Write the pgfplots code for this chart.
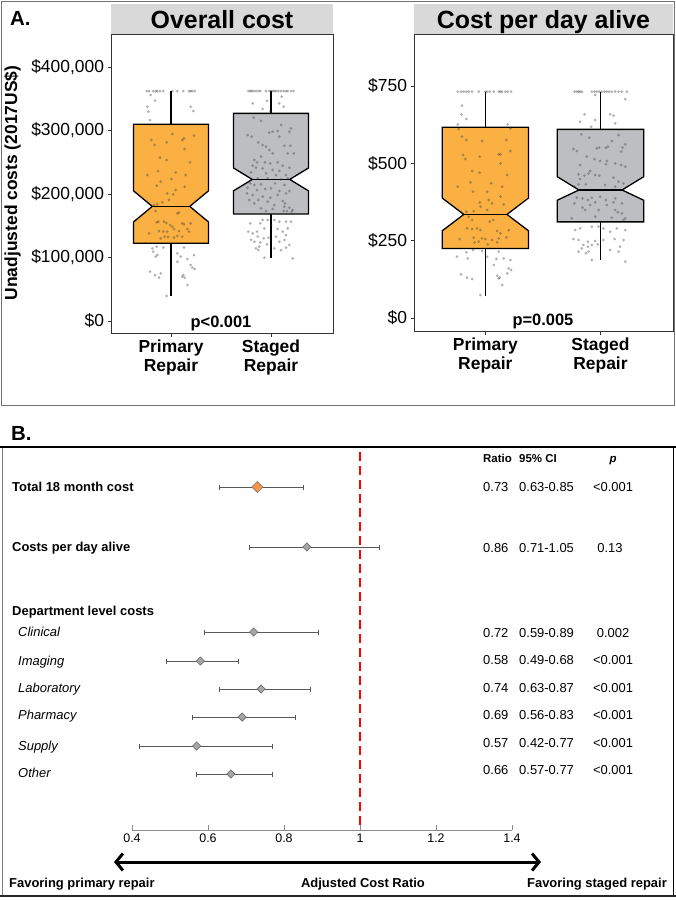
\documentclass[border=0pt]{standalone}
\usepackage{fontspec}
\setmainfont{Liberation Sans}
\usepackage{pgfplots}
\pgfplotsset{compat=1.18}
\usetikzlibrary{arrows.meta}
\definecolor{boxorange}{HTML}{FAB042}
\definecolor{boxgray}{HTML}{BDBEC2}
\definecolor{stripgray}{HTML}{D9D9D9}
\definecolor{diaorange}{HTML}{F79646}
\definecolor{diagray}{HTML}{A6A6A6}
\pgfplotsset{
  boxax/.style={scale only axis, anchor=south west,
    axis line style={black!80, line width=0.8bp},
    tick style={black!80, line width=0.8bp},
    tick align=outside, major tick length=3.5bp, tick pos=left,
    xtick={1,2}, xticklabels={{Primary\\Repair},{Staged\\Repair}},
    xticklabel style={align=center, font=\bfseries\fontsize{17.5}{19}\selectfont},
    yticklabel style={font=\fontsize{17.5}{20}\selectfont},
    clip=false},
  jit/.style={only marks, mark=*, mark size=1.5bp, draw=none,
    mark options={draw=none, draw opacity=0, line width=0pt, fill=black!80, fill opacity=0.38}},
  bx/.style={draw=black, line width=1.3bp},
}
\begin{document}
\begin{tikzpicture}[x=1bp,y=1bp]
\path[use as bounding box] (0,0) rectangle (676,-900);
% ---------- Panel A ----------
\draw[black!55, line width=1bp] (1.5,-1.5) rectangle (674.5,-405);
\node[anchor=base west, font=\bfseries\fontsize{20.5}{24}\selectfont, inner sep=0] at (10,-25) {A.};
\fill[stripgray] (111,-4) rectangle (333,-34);
\fill[stripgray] (414,-4) rectangle (673,-34);
\node[anchor=base, font=\bfseries\fontsize{25}{28}\selectfont, inner sep=0] at (222,-28.3) {Overall cost};
\node[anchor=base, font=\bfseries\fontsize{25}{28}\selectfont, inner sep=0] at (543.5,-28.3) {Cost per day alive};
\node[rotate=90, anchor=base, font=\bfseries\fontsize{17.5}{20}\selectfont, inner sep=0] at (17,-183) {Unadjusted costs (2017US\$)};

\begin{axis}[boxax, at={(111bp,-333bp)}, width=222bp, height=299bp,
  xmin=0.4, xmax=2.62, ymin=-18.9, ymax=452,
  ytick={0,100,200,300,400},
  yticklabels={{\$0},{\$100,000},{\$200,000},{\$300,000},{\$400,000}}]
% primary
\addplot[bx] coordinates {(1,310) (1,362)};
\addplot[bx] coordinates {(1,122.5) (1,39)};
\addplot[bx, fill=boxorange] coordinates {(0.625,122.5) (1.375,122.5) (1.375,156) (1.1875,180.5) (1.375,205) (1.375,310) (0.625,310) (0.625,205) (0.8125,180.5) (0.625,156)} -- cycle;
\addplot[bx] coordinates {(0.8125,180.5) (1.1875,180.5)};
% staged
\addplot[bx] coordinates {(2,327) (2,362)};
\addplot[bx] coordinates {(2,168.5) (2,99)};
\addplot[bx, fill=boxgray] coordinates {(1.625,168.5) (2.375,168.5) (2.375,205) (2.1875,223) (2.375,241) (2.375,327) (1.625,327) (1.625,241) (1.8125,223) (1.625,205)} -- cycle;
\addplot[bx] coordinates {(1.8125,223) (2.1875,223)};
\addplot[jit] table {
x y
0.757 362
0.78 362
0.823 362
0.847 362
0.863 362
0.89 362
0.923 362
1.013 362
1.063 362
1.123 362
1.18 362
1.197 362
1.213 362
1.237 362
0.797 355.9
0.84 346.9
0.763 337.5
1.197 337.5
0.773 329.7
1.223 330.7
0.79 316.5
0.803 285.0
0.837 277.2
1.013 294.5
1.13 287.6
1.113 285.0
1.23 291.9
0.957 281.4
1.137 270.9
0.89 257.2
0.957 253.5
1.19 249.9
0.763 229.9
0.87 236.2
1.047 234.1
1.147 229.9
0.897 219.4
1.003 223.6
1.137 211.5
0.857 213.1
1.047 206.3
0.963 201.0
1.023 199.5
0.913 186.9
0.98 190.6
0.83 182.7
0.863 183.7
1.063 169.5
1.08 170.6
0.847 173.2
0.873 156.4
0.857 155.4
0.93 156.4
0.953 154.3
1.113 153.8
1.13 152.2
1.197 153.8
0.78 138.1
0.88 141.7
0.923 140.7
0.963 140.7
1.03 144.9
1.08 141.7
1.163 144.9
1.18 140.7
0.937 132.8
0.97 132.3
1.03 131.2
1.063 133.9
1.113 132.8
0.897 130.2
0.99 151.2
1.013 148.6
0.813 114.4
0.857 117.1
0.923 115.5
1.13 115.5
0.823 109.2
0.863 103.9
0.847 101.3
1.063 106.6
1.097 101.3
1.163 97.6
1.23 103.9
1.197 88.2
1.213 84.0
1.237 81.9
0.79 77.7
0.84 72.4
0.897 75.1
0.88 68.2
1.063 93.4
1.123 72.4
1.137 68.2
1.113 69.8
1.163 56.7
0.957 39.4
};
\addplot[jit] table {
x y
1.773 362.2
1.793 362.2
1.807 362.2
1.827 362.2
1.85 362.2
1.873 362.2
1.893 362.2
1.95 362.2
1.983 362.2
2.0 362.2
2.017 362.2
2.033 362.2
2.05 362.2
2.073 362.2
2.1 362.2
2.127 362.2
2.15 362.2
2.167 362.2
2.2 362.2
2.227 362.2
1.96 346.5
2.107 353.3
1.817 342.8
2.083 342.8
1.917 333.9
2.127 337.5
1.993 330.7
1.827 320.2
1.9 315.0
2.1 308.7
2.2 303.4
2.183 298.1
1.983 296.6
2.017 298.1
2.067 299.2
1.767 292.9
1.807 290.3
2.083 290.3
1.873 281.4
1.917 277.2
1.95 274.5
2.133 276.1
2.193 276.1
1.983 269.3
2.017 264.1
2.167 264.1
2.227 264.1
1.9 258.8
1.833 253.5
1.86 249.9
1.94 249.9
1.993 248.3
2.067 249.9
1.817 244.6
2.117 244.6
1.85 241.4
2.183 241.4
1.917 240.4
2.017 237.8
2.083 236.2
1.8 234.1
1.95 232.6
2.05 229.9
2.15 229.9
1.867 224.7
1.967 224.7
2.1 223.1
2.167 224.7
1.793 216.8
1.833 214.2
1.9 215.3
2.04 216.8
2.133 214.2
1.767 209.9
1.86 206.3
1.94 207.9
2.0 208.9
2.083 204.7
2.183 204.7
1.76 201.0
1.817 198.4
1.917 195.8
1.993 194.2
2.067 198.4
2.15 201.0
1.783 190.6
1.873 190.6
1.967 187.9
2.117 189.0
1.833 185.3
2.033 182.7
2.14 185.3
1.9 177.4
2.017 176.4
2.183 178.4
1.95 173.2
2.16 173.2
2.207 172.2
2.217 174.8
2.133 180.0
2.127 173.2
1.917 159.1
1.967 159.1
2.033 159.1
2.083 156.4
1.793 153.8
1.893 153.8
2.15 156.4
2.2 156.4
1.773 140.7
1.817 138.1
1.86 140.7
1.933 145.9
2.0 151.2
2.067 144.9
2.117 140.7
2.167 145.9
1.867 132.8
1.927 130.2
1.973 131.2
2.05 132.8
2.15 135.4
1.8 127.6
1.833 124.9
1.893 123.9
1.96 120.7
2.083 124.9
2.133 127.6
2.183 119.7
1.85 114.4
1.883 117.1
2.033 114.4
2.1 111.8
2.15 115.5
1.933 99.7
2.217 98.6
1.873 111.8
};
\node[anchor=base, font=\bfseries\fontsize{16.5}{19}\selectfont, inner sep=0] at (axis cs:1.5,0) [yshift=-6.5bp] {p<0.001};
\end{axis}

\begin{axis}[boxax, at={(414bp,-331bp)}, width=259bp, height=297bp,
  xmin=0.38, xmax=2.63, ymin=-42, ymax=918.5,
  ytick={0,250,500,750},
  yticklabels={{\$0},{\$250},{\$500},{\$750}}]
\addplot[bx] coordinates {(1,617) (1,732)};
\addplot[bx] coordinates {(1,225) (1,71)};
\addplot[bx, fill=boxorange] coordinates {(0.625,225) (1.375,225) (1.375,282) (1.1875,335) (1.375,388) (1.375,617) (0.625,617) (0.625,388) (0.8125,335) (0.625,282)} -- cycle;
\addplot[bx] coordinates {(0.8125,335) (1.1875,335)};
\addplot[bx] coordinates {(2,610) (2,732)};
\addplot[bx] coordinates {(2,311) (2,187)};
\addplot[bx, fill=boxgray] coordinates {(1.625,311) (2.375,311) (2.375,381) (2.1875,414) (2.375,457) (2.375,610) (1.625,610) (1.625,457) (1.8125,414) (1.625,381)} -- cycle;
\addplot[bx] coordinates {(1.8125,414) (2.1875,414)};
\addplot[jit] table {
x y
0.76 732
0.789 732
0.812 732
0.835 732
0.855 732
0.884 732
0.942 732
1.0 732
1.015 732
1.038 732
1.073 732
1.116 732
1.131 732
1.145 732
1.174 732
1.194 732
1.223 732
0.797 686.7
0.792 658.7
0.835 643.6
0.76 626.3
1.194 626.3
1.218 613.3
0.768 611.2
0.797 586.5
0.835 575.7
0.971 572.4
1.183 575.7
1.218 540.1
0.806 527.1
0.826 514.2
0.951 521.8
1.116 529.3
1.131 529.3
1.131 500.2
0.884 475.4
0.951 470.0
1.189 462.5
0.87 438.7
0.76 424.7
1.05 435.5
1.145 424.7
0.893 408.6
1.015 408.6
1.131 392.4
1.029 381.6
0.951 374.0
1.058 370.8
0.957 360.1
1.16 367.6
0.835 343.9
0.899 346.0
1.015 349.3
0.855 327.7
0.884 316.9
1.067 316.9
1.038 311.5
0.841 289.9
0.884 287.8
0.928 289.9
0.957 284.6
1.102 281.4
1.131 273.8
1.203 284.6
0.777 255.5
0.899 259.8
0.971 257.6
1.0 255.5
1.058 252.3
1.116 257.6
0.942 246.9
0.905 244.7
1.183 260.8
1.021 238.2
1.102 244.7
0.754 198.4
0.835 212.4
0.847 193.0
0.893 219.9
0.971 216.7
1.015 198.4
1.116 214.5
1.073 171.4
1.096 190.8
1.16 193.0
1.218 187.6
1.203 160.6
1.223 155.2
1.189 144.4
1.102 136.9
1.125 130.5
0.789 141.2
0.841 130.5
0.884 126.1
1.145 106.7
0.957 74.4
1.116 128.3
};
\addplot[jit] table {
x y
1.774 732
1.794 732
1.809 732
1.823 732
1.838 732
1.925 732
1.948 732
1.968 732
1.989 732
2.012 732
2.035 732
2.055 732
2.075 732
2.099 732
2.128 732
2.157 732
2.186 732
2.229 732
2.215 708.2
1.954 721.2
1.861 658.7
1.954 640.3
2.084 658.7
2.128 629.6
1.823 634.9
1.919 618.8
2.113 654.3
1.832 593.9
1.902 583.2
2.157 591.8
2.099 572.4
1.765 546.5
1.794 540.1
1.968 548.7
1.989 550.9
2.047 550.9
2.064 554.1
2.191 550.9
2.215 561.6
2.18 537.9
1.881 521.8
1.948 514.2
1.997 507.7
2.055 507.7
1.823 494.8
2.047 497.0
2.128 500.2
2.18 494.8
2.215 489.5
1.91 475.4
1.896 467.8
1.954 462.5
1.989 460.3
1.861 460.3
1.809 464.6
2.113 453.9
1.823 449.5
2.157 440.9
1.873 432.3
1.774 424.7
1.809 432.3
2.041 430.1
2.128 424.7
2.2 435.5
1.794 389.2
1.844 387.0
1.89 381.6
1.925 389.2
1.997 392.4
2.047 381.6
2.128 387.0
1.774 370.8
1.844 356.8
1.91 365.4
1.954 374.0
2.055 365.4
2.113 374.0
2.186 370.8
1.867 349.3
1.983 349.3
2.128 349.3
2.151 341.7
2.186 338.5
2.215 322.3
2.2 316.9
1.751 322.3
1.954 327.7
2.099 324.5
1.78 284.6
1.823 290.0
1.925 295.4
1.983 295.4
2.026 290.0
2.084 279.2
2.142 290.0
2.215 284.6
1.765 255.5
1.809 252.3
1.89 246.9
1.954 249.0
2.026 252.3
2.122 255.5
2.2 252.3
1.852 236.1
1.925 236.1
1.977 238.2
1.838 225.3
1.89 230.7
2.171 230.7
1.809 214.5
1.896 214.5
2.084 219.9
2.157 214.5
1.873 209.1
1.925 187.6
2.215 182.2
};
\node[anchor=base, font=\bfseries\fontsize{16.5}{19}\selectfont, inner sep=0] at (axis cs:1.5,0) [yshift=-7bp] {p=0.005};
\end{axis}

% ---------- Panel B ----------
\node[anchor=base west, font=\bfseries\fontsize{20.5}{24}\selectfont, inner sep=0] at (11,-440) {B.};
\draw[black!50, line width=1bp] (2,-447) -- (2,-895);
\draw[black, line width=1bp] (673,-447) -- (673,-895);
\draw[black, line width=2.5bp] (0,-447) -- (676,-447);
\draw[black!85, line width=2.5bp] (0,-896) -- (676,-896);

\begin{axis}[at={(2bp,-895bp)}, anchor=south west, scale only axis, width=671bp, height=448bp,
  xmin=0.0579, xmax=1.8237, ymin=447, ymax=895, y dir=reverse, hide axis, clip=false]
\addplot[red, line width=2.6bp, dash pattern=on 9bp off 5bp] coordinates {(1,452) (1,830)};
\addplot[only marks, mark=square*, mark size=2.9bp,
  mark options={rotate=45, fill=diagray, draw=black!60, line width=0.6bp},
  error bars/.cd, x dir=both, x explicit,
  error bar style={black!65, line width=0.8bp},
  error mark options={black!65, line width=0.8bp, mark size=2.5bp, rotate=90}]
  table[x=r, y=y, x error plus expr=\thisrow{hi}-\thisrow{r}, x error minus expr=\thisrow{r}-\thisrow{lo}] {
y r lo hi
547 0.86 0.71 1.05
632 0.72 0.59 0.89
661 0.58 0.49 0.68
689 0.74 0.63 0.87
717 0.69 0.56 0.83
746 0.57 0.42 0.77
774 0.66 0.57 0.77
};
\addplot[only marks, mark=square*, mark size=3.9bp,
  mark options={rotate=45, fill=diaorange, draw=black!50, line width=0.6bp},
  error bars/.cd, x dir=both, x explicit,
  error bar style={black!65, line width=0.8bp},
  error mark options={black!65, line width=0.8bp, mark size=2.5bp, rotate=90}]
  table[x=r, y=y, x error plus expr=\thisrow{hi}-\thisrow{r}, x error minus expr=\thisrow{r}-\thisrow{lo}] {
y r lo hi
487 0.73 0.63 0.85
};
\end{axis}

\begin{axis}[at={(132bp,-830bp)}, anchor=south west, scale only axis, width=380bp, height=10bp,
  xmin=0.4, xmax=1.4, ymin=0, ymax=1,
  axis x line=bottom, axis y line=none,
  axis line style={-, black!45, line width=0.8bp},
  xtick={0.4,0.6,0.8,1,1.2,1.4}, xticklabels={0.4,0.6,0.8,1,1.2,1.4},
  tick align=inside, major tick length=5bp,
  tick style={black!45, line width=0.8bp},
  xticklabel style={font=\fontsize{12.5}{14}\selectfont}]
\addplot[draw=none] coordinates {(0.4,0.5) (1.4,0.5)};
\end{axis}

\draw[line width=3bp, {Straight Barb[length=7bp,width=17bp]}-{Straight Barb[length=7bp,width=17bp]}] (114,-862) -- (541,-862);
\node[anchor=base west, font=\bfseries\fontsize{13}{15}\selectfont, inner sep=0] at (9,-887) {Favoring primary repair};
\node[anchor=base, font=\bfseries\fontsize{13}{15}\selectfont, inner sep=0] at (363,-887) {Adjusted Cost Ratio};
\node[anchor=base east, font=\bfseries\fontsize{13}{15}\selectfont, inner sep=0] at (667,-887) {Favoring staged repair};

% row labels
\begin{scope}[every node/.style={anchor=base west, inner sep=0, font=\fontsize{13}{15}\selectfont}]
\node[font=\bfseries\fontsize{13}{15}\selectfont] at (12,-491.7) {Total 18 month cost};
\node[font=\bfseries\fontsize{13}{15}\selectfont] at (12,-551.7) {Costs per day alive};
\node[font=\bfseries\fontsize{13}{15}\selectfont] at (12,-615.7) {Department level costs};
\node[font=\itshape\fontsize{13}{15}\selectfont] at (18,-636.7) {Clinical};
\node[font=\itshape\fontsize{13}{15}\selectfont] at (18,-665.7) {Imaging};
\node[font=\itshape\fontsize{13}{15}\selectfont] at (18,-692.7) {Laboratory};
\node[font=\itshape\fontsize{13}{15}\selectfont] at (18,-719.7) {Pharmacy};
\node[font=\itshape\fontsize{13}{15}\selectfont] at (18,-750.7) {Supply};
\node[font=\itshape\fontsize{13}{15}\selectfont] at (18,-777.7) {Other};
% table
\node[font=\bfseries\fontsize{11.5}{13}\selectfont] at (483,-462) {Ratio};
\node[font=\bfseries\fontsize{11.5}{13}\selectfont] at (519,-462) {95\% CI};
\node[anchor=base, font=\bfseries\itshape\fontsize{11.5}{13}\selectfont] at (613,-462) {p};
\node at (483,-491.7) {0.73}; \node at (519,-491.7) {0.63-0.85}; \node[anchor=base] at (613,-491.7) {<0.001};
\node at (483,-552.7) {0.86}; \node at (519,-552.7) {0.71-1.05}; \node[anchor=base] at (610,-552.7) {0.13};
\node at (483,-637.7) {0.72}; \node at (519,-637.7) {0.59-0.89}; \node[anchor=base] at (613,-637.7) {0.002};
\node at (483,-664.7) {0.58}; \node at (519,-664.7) {0.49-0.68}; \node[anchor=base] at (613,-664.7) {<0.001};
\node at (483,-692.7) {0.74}; \node at (519,-692.7) {0.63-0.87}; \node[anchor=base] at (613,-692.7) {<0.001};
\node at (483,-719.7) {0.69}; \node at (519,-719.7) {0.56-0.83}; \node[anchor=base] at (613,-719.7) {<0.001};
\node at (483,-747.7) {0.57}; \node at (519,-747.7) {0.42-0.77}; \node[anchor=base] at (613,-747.7) {<0.001};
\node at (483,-774.7) {0.66}; \node at (519,-774.7) {0.57-0.77}; \node[anchor=base] at (613,-774.7) {<0.001};
\end{scope}
\end{tikzpicture}
\end{document}
